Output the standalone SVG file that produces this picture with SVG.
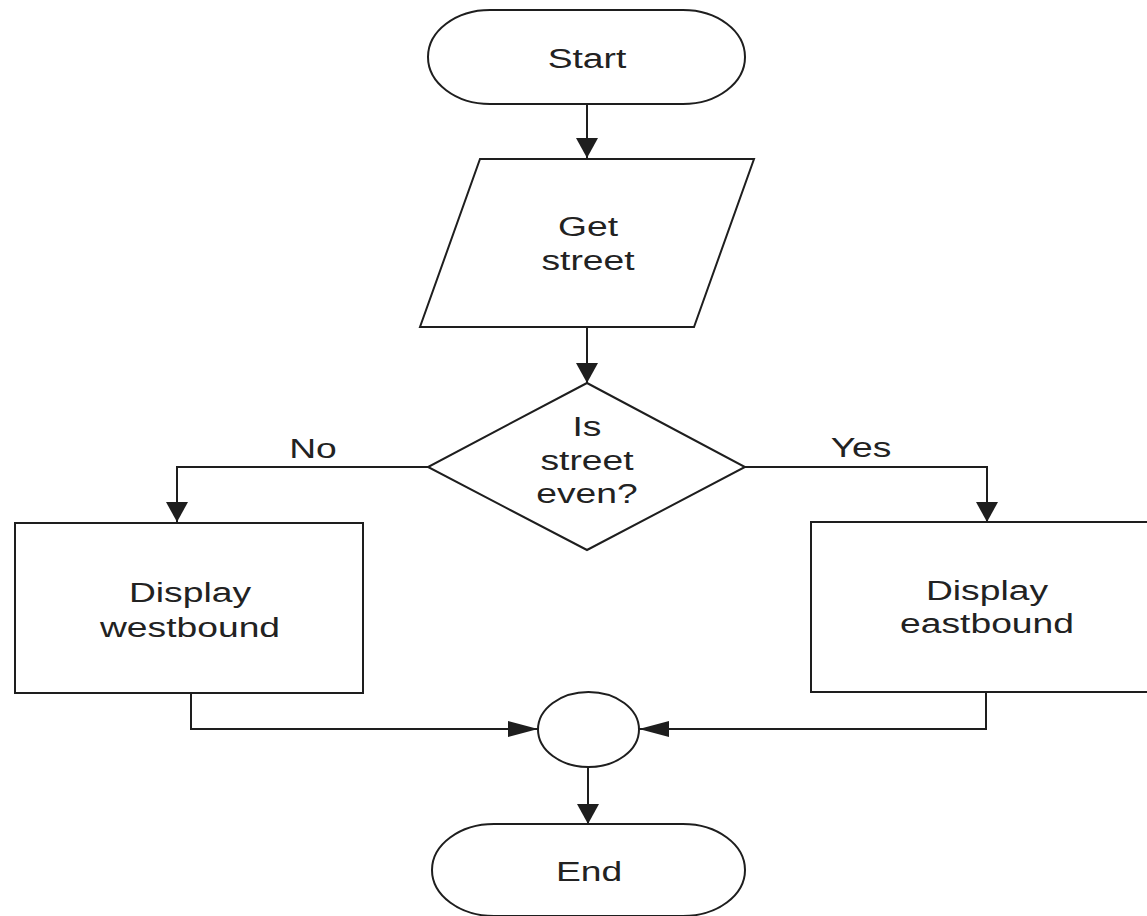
<svg xmlns="http://www.w3.org/2000/svg" width="1147" height="916" viewBox="0 0 1147 916">
  <style>
    .shape { fill: #ffffff; stroke: #1e1e1e; stroke-width: 2; }
    .line { fill: none; stroke: #1e1e1e; stroke-width: 2; }
    .label { font-family: "Liberation Sans", Arial, sans-serif; font-size: 28px; fill: #222222; text-anchor: middle; }
  </style>
  <defs>
    <!-- vertical flow arrowhead (wider than long) -->
    <marker id="arrowV" markerUnits="userSpaceOnUse" markerWidth="20" markerHeight="22" refX="20" refY="11" orient="auto">
      <path d="M0,0 L20,11 L0,22 Z" fill="#1e1e1e"/>
    </marker>
    <!-- horizontal flow arrowhead (longer than wide) -->
    <marker id="arrowH" markerUnits="userSpaceOnUse" markerWidth="30" markerHeight="16" refX="30" refY="8" orient="auto">
      <path d="M0,0 L30,8 L0,16 Z" fill="#1e1e1e"/>
    </marker>
  </defs>

  <rect width="1147" height="916" fill="#ffffff"/>

  <g id="connectors">
    <path class="line" d="M587,104 L587,158" marker-end="url(#arrowV)"/>
    <path class="line" d="M587,327 L587,383" marker-end="url(#arrowV)"/>
    <path class="line" d="M428,467 L177,467 L177,522" marker-end="url(#arrowV)"/>
    <path class="line" d="M745,467 L987,467 L987,522" marker-end="url(#arrowV)"/>
    <path class="line" d="M191,693 L191,729 L538,729" marker-end="url(#arrowH)"/>
    <path class="line" d="M986,692 L986,729 L639,729" marker-end="url(#arrowH)"/>
    <path class="line" d="M588,767 L588,824" marker-end="url(#arrowV)"/>
    <text class="label" transform="translate(313 458) scale(1.33 1)">No</text>
    <text class="label" transform="translate(861 457) scale(1.33 1)">Yes</text>
  </g>

  <g id="start">
    <rect class="shape" x="428" y="10" width="317" height="94" rx="62" ry="47"/>
    <text class="label" transform="translate(587 68) scale(1.33 1)">Start</text>
  </g>

  <g id="get-street">
    <polygon class="shape" points="480,159 754,159 694,327 420,327"/>
    <text class="label" transform="translate(588 236) scale(1.33 1)">Get</text>
    <text class="label" transform="translate(588 270) scale(1.33 1)">street</text>
  </g>

  <g id="is-even">
    <polygon class="shape" points="587,383 745,467 587,550 428,467"/>
    <text class="label" transform="translate(587 436) scale(1.33 1)">Is</text>
    <text class="label" transform="translate(587 470) scale(1.33 1)">street</text>
    <text class="label" transform="translate(587 503) scale(1.33 1)">even?</text>
  </g>

  <g id="westbound">
    <rect class="shape" x="15" y="523" width="348" height="170"/>
    <text class="label" transform="translate(190 602) scale(1.33 1)">Display</text>
    <text class="label" transform="translate(190 637) scale(1.33 1)">westbound</text>
  </g>

  <g id="eastbound">
    <rect class="shape" x="811" y="522" width="350" height="170"/>
    <text class="label" transform="translate(987 600) scale(1.33 1)">Display</text>
    <text class="label" transform="translate(987 633) scale(1.33 1)">eastbound</text>
  </g>

  <g id="merge">
    <ellipse class="shape" cx="588.5" cy="729.5" rx="50.5" ry="37.5"/>
  </g>

  <g id="end">
    <rect class="shape" x="432" y="824" width="313" height="92" rx="62" ry="46"/>
    <text class="label" transform="translate(589 881) scale(1.33 1)">End</text>
  </g>
</svg>
